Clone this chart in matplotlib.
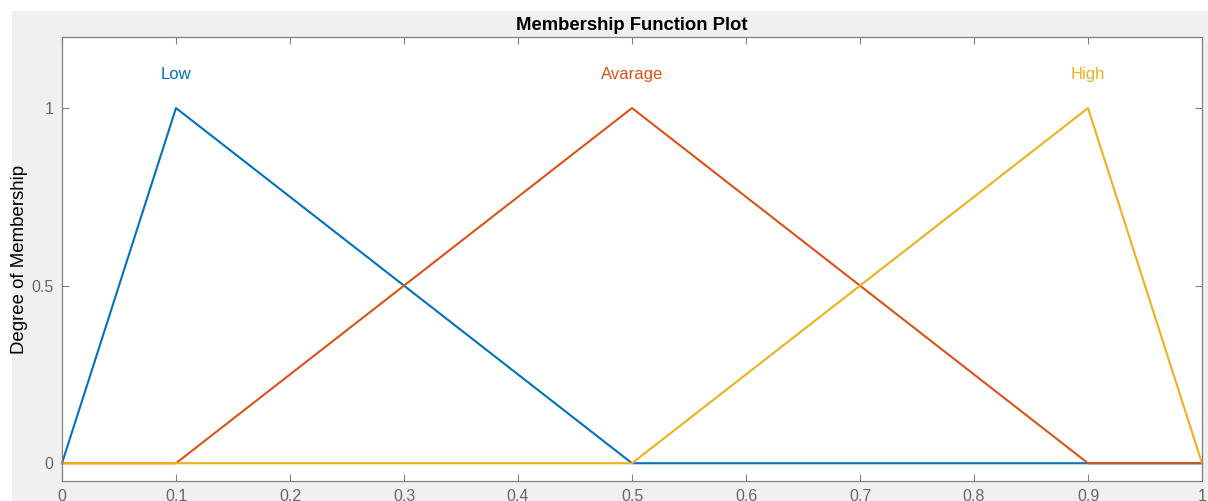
import matplotlib.pyplot as plt
from matplotlib.patches import Rectangle

plt.rcParams['font.family'] = ['Liberation Sans', 'DejaVu Sans']

# Membership function break points
x_low = [0, 0.1, 0.5, 1]
y_low = [0, 1, 0, 0]
x_avg = [0, 0.1, 0.5, 0.9, 1]
y_avg = [0, 0, 1, 0, 0]
x_high = [0, 0.5, 0.9, 1]
y_high = [0, 0, 1, 0]

names = ['Low', 'Avarage', 'High']
peaks = [0.1, 0.5, 0.9]
colors = ['#0072BD', '#D95319', '#EDB120']

xticks = [0, 0.1, 0.2, 0.3, 0.4, 0.5, 0.6, 0.7, 0.8, 0.9, 1]
xticklabels = ['0', '0.1', '0.2', '0.3', '0.4', '0.5', '0.6', '0.7', '0.8', '0.9', '1']
yticks = [0, 0.5, 1]
yticklabels = ['0', '0.5', '1']

fig = plt.figure(figsize=(12.08, 5.01), dpi=100, facecolor='white')
# gray figure area like the MATLAB window
fig.patches.append(Rectangle((12 / 1208, 0), 1, 490 / 501, transform=fig.transFigure,
                             facecolor='#f0f0f0', edgecolor='none', zorder=-1))

ax = fig.add_axes([62 / 1208, 20 / 501, 1140 / 1208, 444 / 501])
ax.set_facecolor('white')

for xs, ys, c in zip([x_low, x_avg, x_high], [y_low, y_avg, y_high], colors):
    ax.plot(xs, ys, color=c, lw=1.5, clip_on=False)

for name, p, c in zip(names, peaks, colors):
    ax.text(p, 1.095, name, color=c, ha='center', va='center', fontsize=12)

ax.set_xlim(0, 1)
ax.set_ylim(-0.05, 1.2)
ax.set_xticks(xticks)
ax.set_xticklabels(xticklabels)
ax.set_yticks(yticks)
ax.set_yticklabels(yticklabels)

ax.tick_params(direction='in', top=True, right=True, length=5, width=0.8,
               color='#808080', labelcolor='#666666', labelsize=11.5, pad=6)
for s in ax.spines.values():
    s.set_color('#808080')
    s.set_linewidth(0.9)

ax.set_title('Membership Function Plot', fontsize=13.3, fontweight='bold', pad=5)
ax.set_ylabel('Degree of Membership', fontsize=13.4, labelpad=2.5)

fig.savefig('out.png', dpi=100, facecolor=fig.get_facecolor())
